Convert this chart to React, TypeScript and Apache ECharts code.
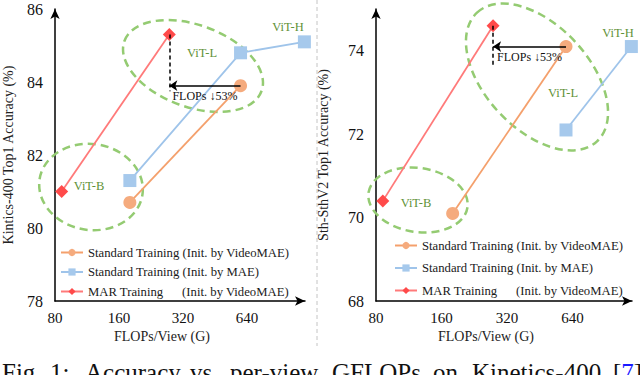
import React, { useEffect, useRef } from "react";
import * as echarts from "echarts";

const seriesNames = [
  "Standard Training (Init. by VideoMAE)",
  "Standard Training (Init. by MAE)",
  "MAR Training (Init. by VideoMAE)",
];
const flopsStandard = [180, 597, 1192];
const flopsMAR = [86, 276];
const k400VideoMAE = [80.7, 83.9];
const k400MAE = [81.3, 84.8, 85.1];
const k400MAR = [81.0, 85.3];
const ssv2VideoMAE = [70.1, 74.1];
const ssv2MAEFlops = [597, 1192];
const ssv2MAE = [72.1, 74.1];
const ssv2MAR = [70.4, 74.6];
const xTicks = [80, 160, 320, 640];
const k400Ticks = [78, 80, 82, 84, 86];
const ssv2Ticks = [68, 70, 72, 74];
const captionWords = ["Fig.", "1:", "Accuracy", "vs.", "per-view", "GFLOPs", "on", "Kinetics-400"];

const SERIF = "'Liberation Serif', 'Times New Roman', serif";
const ORANGE = "#f5ab7e";
const ORANGE_LINE = "#f4a06c";
const BLUE = "#a6c9ec";
const BLUE_LINE = "#9fc4ea";
const RED = "#ff4a4a";
const RED_LINE = "#ff7a7a";
const GREEN_TEXT = "#5f9238";
const GREEN_DASH = "#94cb72";

function pairs(xs: number[], ys: number[]) {
  return ys.map((y, i) => [xs[i], y]);
}

function makeXAxis(gridIndex: number) {
  return {
    type: "log",
    logBase: 2,
    gridIndex,
    min: 80,
    max: 1200,
    axisLine: {
      show: true,
      symbol: ["none", "arrow"],
      symbolSize: [7, 10],
      lineStyle: { color: "#000", width: 1.5 },
    },
    axisTick: { show: false },
    splitLine: { show: false },
    minorSplitLine: { show: false },
    axisLabel: {
      customValues: xTicks,
      formatter: (v: number) => String(Math.round(v)),
      fontFamily: SERIF,
      fontSize: 15,
      color: "#111",
      margin: 9,
    },
    name: "FLOPs/View (G)",
    nameLocation: "middle",
    nameGap: 26,
    nameTextStyle: { fontFamily: SERIF, fontSize: 14, color: "#222", padding: [0, 36, 0, 0] },
  };
}

function makeYAxis(gridIndex: number, min: number, max: number, ticks: number[], name: string, gap: number) {
  return {
    type: "value",
    gridIndex,
    min,
    max,
    axisLine: {
      show: true,
      symbol: ["none", "arrow"],
      symbolSize: [7, 10],
      lineStyle: { color: "#000", width: 1.5 },
    },
    axisTick: { show: false },
    splitLine: { show: false },
    axisLabel: {
      customValues: ticks,
      fontFamily: SERIF,
      fontSize: 16,
      color: "#111",
      margin: 12,
    },
    name,
    nameLocation: "middle",
    nameRotate: 90,
    nameGap: gap,
    nameTextStyle: { fontFamily: SERIF, fontSize: 14, color: "#222" },
  };
}

function arrowMarks(redX: number, redY: number, orangeX: number, orangeY: number, dashEndY: number) {
  return {
    silent: true,
    animation: false,
    data: [
      [
        {
          coord: [redX, orangeY],
          symbol: "arrow",
          symbolSize: 8,
          lineStyle: { color: "#000", width: 1.5, type: "solid" },
          label: {
            show: true,
            position: "insideMiddleBottom",
            formatter: "FLOPs \u219353%",
            fontFamily: SERIF,
            fontSize: 12,
            color: "#111",
            distance: 4,
          },
        },
        { coord: [orangeX, orangeY], symbol: "none" },
      ],
      [
        {
          coord: [redX, redY],
          symbol: "none",
          lineStyle: { color: "#000", width: 1.5, type: [4, 3] },
          label: { show: false },
        },
        { coord: [redX, dashEndY], symbol: "none" },
      ],
    ],
  };
}

function lineSeries(name: string, idx: number, data: number[][], symbol: string, color: string, lineColor: string, extra: any = {}) {
  return {
    type: "line",
    name,
    xAxisIndex: idx,
    yAxisIndex: idx,
    data,
    symbol,
    symbolSize: 13,
    showAllSymbol: true,
    itemStyle: { color, opacity: 1 },
    lineStyle: { color: lineColor, width: 1.8 },
    emphasis: { disabled: true },
    ...extra,
  };
}

function ellipse(x: number, y: number, rx: number, ry: number, rotation: number) {
  return {
    type: "ellipse",
    x,
    y,
    rotation,
    silent: true,
    z: 1,
    shape: { cx: 0, cy: 0, rx, ry },
    style: { fill: "none", stroke: GREEN_DASH, lineWidth: 2.5, lineDash: [8, 5] },
  };
}

function vitLabel(text: string, x: number, y: number) {
  return {
    type: "text",
    x,
    y,
    silent: true,
    z: 5,
    style: {
      text,
      fill: GREEN_TEXT,
      font: `12.5px ${SERIF}`,
      align: "center",
      verticalAlign: "middle",
    },
  };
}

const captionX = [2, 50, 85, 190, 230, 332, 433, 472];

export default function App() {
  const ref = useRef<HTMLDivElement>(null);
  useEffect(() => {
    if (!ref.current) return;
    const chart = echarts.init(ref.current, undefined, { renderer: "svg" });
    const legendBase = {
      orient: "vertical",
      itemWidth: 22,
      itemHeight: 9,
      data: seriesNames,
      formatter: (n: string) =>
        n.startsWith("MAR") ? "MAR Training\u00a0\u00a0\u00a0\u00a0\u00a0\u00a0(Init. by VideoMAE)" : n,
      textStyle: { fontFamily: SERIF, fontSize: 12.7, color: "#1a1a1a", lineHeight: 15 },
      selectedMode: false,
    };
    const option: any = {
      animation: false,
      grid: [
        { left: 49, top: 9, width: 256, height: 292 },
        { left: 376, top: 9, width: 256, height: 292 },
      ],
      xAxis: [makeXAxis(0), makeXAxis(1)],
      yAxis: [
        makeYAxis(0, 78, 86, k400Ticks, "Kintics-400 Top1 Accuracy (%)", 40),
        makeYAxis(1, 68, 75, ssv2Ticks, "Sth-SthV2 Top1 Accuracy (%)", 46),
      ],
      legend: [
        { ...legendBase, left: 55, top: 240, itemGap: 4.5 },
        { ...legendBase, left: 389, top: 233, itemGap: 7.5 },
      ],
      series: [
        lineSeries(seriesNames[0], 0, pairs(flopsStandard, k400VideoMAE), "circle", ORANGE, ORANGE_LINE),
        lineSeries(seriesNames[1], 0, pairs(flopsStandard, k400MAE), "rect", BLUE, BLUE_LINE),
        lineSeries(seriesNames[2], 0, pairs(flopsMAR, k400MAR), "diamond", RED, RED_LINE, {
          markLine: arrowMarks(flopsMAR[1], k400MAR[1], flopsStandard[1], k400VideoMAE[1], 83.75),
        }),
        lineSeries(seriesNames[0], 1, pairs(flopsStandard, ssv2VideoMAE), "circle", ORANGE, ORANGE_LINE),
        lineSeries(seriesNames[1], 1, pairs(ssv2MAEFlops, ssv2MAE), "rect", BLUE, BLUE_LINE),
        lineSeries(seriesNames[2], 1, pairs(flopsMAR, ssv2MAR), "diamond", RED, RED_LINE, {
          markLine: arrowMarks(flopsMAR[1], ssv2MAR[1], flopsStandard[1], ssv2VideoMAE[1], 73.6),
        }),
      ],
      graphic: [
        {
          type: "line",
          silent: true,
          shape: { x1: 317, y1: 0, x2: 317, y2: 346 },
          style: { stroke: "#c4c4c4", lineWidth: 1, lineDash: [4, 3] },
        },
        ellipse(193, 66, 73, 41, -0.35),
        ellipse(91, 187, 52, 43, -0.15),
        ellipse(537, 77, 88, 52, -0.82),
        ellipse(418, 200, 50, 32, -0.15),
        vitLabel("ViT-H", 288, 27),
        vitLabel("ViT-L", 202, 53),
        vitLabel("ViT-B", 89, 186),
        vitLabel("ViT-H", 618, 33),
        vitLabel("ViT-L", 563, 93),
        vitLabel("ViT-B", 416, 203),
        ...captionWords.map((w, i) => ({
          type: "text",
          x: captionX[i],
          y: 372,
          silent: true,
          style: { text: w, fill: "#111", font: `25px ${SERIF}`, verticalAlign: "middle" },
        })),
        {
          type: "text",
          x: 613,
          y: 372,
          silent: true,
          style: {
            text: "[{b|7}]",
            fill: "#111",
            font: `25px ${SERIF}`,
            verticalAlign: "middle",
            rich: { b: { fill: "#1a1aff", font: `25px ${SERIF}` } },
          },
        },
      ],
    };
    chart.setOption(option);
    return () => chart.dispose();
  }, []);
  return (
    <div
      ref={ref}
      style={{ position: "absolute", left: 0, top: 0, width: 640, height: 375, background: "#fff" }}
    />
  );
}
